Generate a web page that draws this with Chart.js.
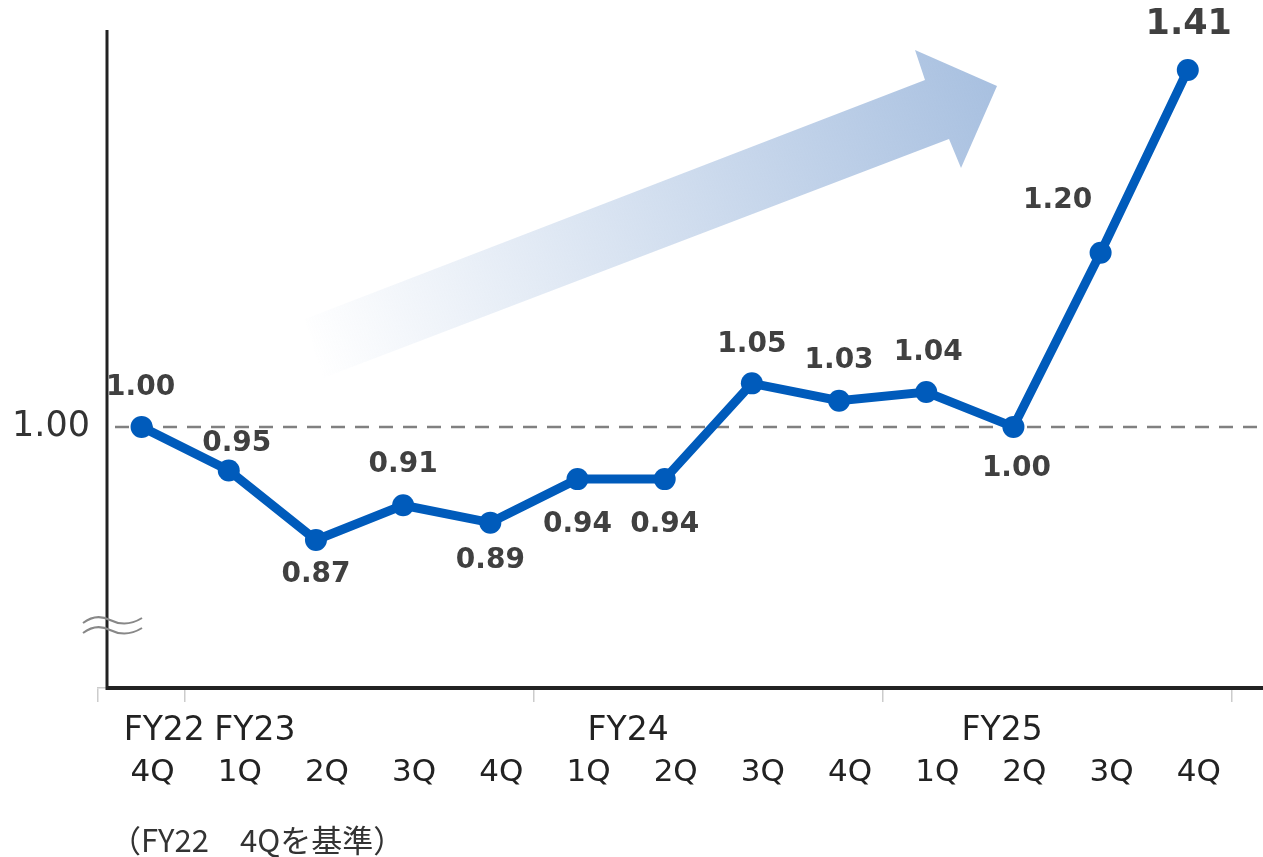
<!DOCTYPE html>
<html>
<head>
<meta charset="utf-8">
<script src="https://cdn.jsdelivr.net/npm/chart.js@4.4.0/dist/chart.umd.min.js"></script>
<style>
html,body{margin:0;padding:0;background:#fff;overflow:hidden}
#wrap{position:relative;width:1263px;height:857px}
#note{position:absolute;left:110px;top:816px;font:31px "Noto Sans CJK JP","DejaVu Sans",sans-serif;color:#333;white-space:nowrap}
</style>
</head>
<body>
<div id="wrap">
<canvas id="lineChart" width="1263" height="857"></canvas>
<div id="note">（FY22　4Qを基準）</div>
</div>
<script>
// data
let quarters=['4Q','1Q','2Q','3Q','4Q','1Q','2Q','3Q','4Q','1Q','2Q','3Q','4Q'];
let years=['FY22','FY23','FY24','FY25'];
let values=[1.00,0.95,0.87,0.91,0.89,0.94,0.94,1.05,1.03,1.04,1.00,1.20,1.41];
let baseLine=1.00;
let yTicks=[1.00];

// layout bits
let font='"DejaVu Sans", sans-serif';
let yearSlot=[0.26,1.3,5.58,9.87];      // where year captions sit, in category units
let groupLines=[0,1,5,9];               // tick marks between fiscal years
let labelShift=[[-1,-39],[8,-27],[0,35],[0,-41],[0,38],[0,46],[0,46],[0,-39],[0,-40],[2,-39],[3,42],[-43,-52],[1,-45]];

let decor={
  id:'decor',
  beforeDatasetsDraw(chart){
    let ctx=chart.ctx, a=chart.chartArea, y=chart.scales.y;
    ctx.save();
    // big arrow
    let g=ctx.createLinearGradient(310,350,997,86);
    g.addColorStop(0,'rgba(168,192,224,0)');
    g.addColorStop(1,'rgba(168,192,224,1)');
    ctx.fillStyle=g;
    ctx.beginPath();
    ctx.moveTo(305,319);
    ctx.lineTo(925,80);
    ctx.lineTo(915,50);
    ctx.lineTo(997,86);
    ctx.lineTo(961,168);
    ctx.lineTo(949,139);
    ctx.lineTo(323,378);
    ctx.closePath();
    ctx.fill();
    // base line
    let yy=y.getPixelForValue(baseLine);
    ctx.strokeStyle='#808080';
    ctx.lineWidth=2.5;
    ctx.setLineDash([14,10]);
    ctx.beginPath();
    ctx.moveTo(a.left+17,yy);
    ctx.lineTo(chart.width,yy);
    ctx.stroke();
    ctx.restore();
  },
  afterDraw(chart){
    let ctx=chart.ctx, a=chart.chartArea, x=chart.scales.x;
    ctx.save();
    // axes
    ctx.strokeStyle='#222';
    ctx.lineWidth=3;
    ctx.beginPath();
    ctx.moveTo(a.left+9,a.top);
    ctx.lineTo(a.left+9,a.bottom+2);
    ctx.stroke();
    ctx.lineWidth=4;
    ctx.beginPath();
    ctx.moveTo(a.left+8,a.bottom);
    ctx.lineTo(chart.width,a.bottom);
    ctx.stroke();
    // axis break
    ctx.strokeStyle='#888';
    ctx.lineWidth=2;
    for(let k=0;k<2;k++){
      let o=k*10;
      ctx.beginPath();
      ctx.moveTo(83,623+o);
      ctx.quadraticCurveTo(96,613+o,110,620+o);
      ctx.quadraticCurveTo(126,628+o,142,618+o);
      ctx.stroke();
    }
    // year captions
    ctx.fillStyle='#222';
    ctx.font='33px '+font;
    ctx.textAlign='center';
    ctx.textBaseline='middle';
    years.forEach((t,i)=>{
      ctx.fillText(t,x.getPixelForValue(yearSlot[i]),731);
    });
    // value labels
    let meta=chart.getDatasetMeta(0);
    ctx.fillStyle='#404040';
    meta.data.forEach((p,i)=>{
      ctx.font='bold '+(i===values.length-1?35:28)+'px '+font;
      ctx.fillText(values[i].toFixed(2),p.x+labelShift[i][0],p.y+labelShift[i][1]);
    });
    ctx.restore();
  }
};

let ctx=document.getElementById('lineChart').getContext('2d');
let myChart=new Chart(ctx,{
  type:'line',
  data:{
    labels:quarters,
    datasets:[{
      data:values,
      borderColor:'#005bbb',
      backgroundColor:'#005bbb',
      borderWidth:9,
      pointRadius:11,
      pointBorderWidth:0,
      pointBackgroundColor:'#005bbb',
      tension:0,
      clip:false
    }]
  },
  options:{
    responsive:false,
    animation:false,
    layout:{padding:{top:30,right:30,left:0,bottom:0}},
    plugins:{legend:{display:false},tooltip:{enabled:false}},
    scales:{
      x:{
        offset:true,
        grid:{
          offset:true,
          drawOnChartArea:false,
          drawTicks:true,
          tickLength:14,
          lineWidth:1.5,
          color:c=>(c.index===undefined||groupLines.includes(c.index))?'#cccccc':'rgba(0,0,0,0)'
        },
        border:{display:true,color:'#cccccc',width:1.5},
        ticks:{color:'#222',font:{family:font,size:31},padding:52,labelOffset:11,maxRotation:0,autoSkip:false},
        afterFit:s=>{s.height=169;}
      },
      y:{
        min:0.7,
        max:1.456,
        afterBuildTicks:s=>{s.ticks=yTicks.map(v=>({value:v}));},
        grid:{display:false,drawTicks:false},
        border:{display:false},
        ticks:{color:'#333',font:{family:font,size:35},padding:8,callback:v=>v.toFixed(2)},
        afterFit:s=>{s.width=98;}
      }
    }
  },
  plugins:[decor]
});
</script>
</body>
</html>
